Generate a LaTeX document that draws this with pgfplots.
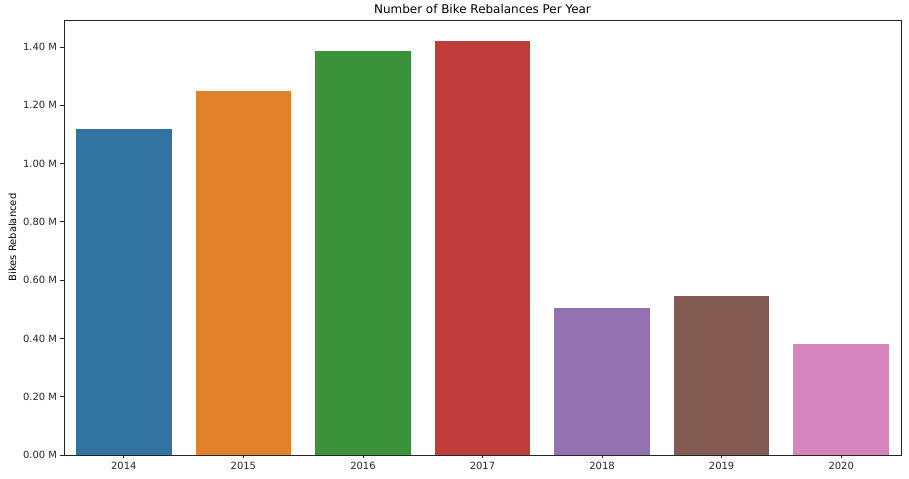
\documentclass[border=0pt]{standalone}
\usepackage{fontspec}
\setmainfont{DejaVu Sans}
\usepackage{pgfplots}
\pgfplotsset{compat=1.18}

\definecolor{c2014}{HTML}{3274A1}
\definecolor{c2015}{HTML}{E1812C}
\definecolor{c2016}{HTML}{3A923A}
\definecolor{c2017}{HTML}{C03D3E}
\definecolor{c2018}{HTML}{9372B2}
\definecolor{c2019}{HTML}{845B53}
\definecolor{c2020}{HTML}{D684BD}
\definecolor{axgray}{HTML}{262626}

% values in millions of bikes rebalanced
\begin{document}
\begin{tikzpicture}
\begin{axis}[
    scale only axis,
    width=837bp, height=435bp,
    xmin=-0.5, xmax=6.5,
    ymin=0, ymax=1.4928,
    ybar, bar width=0.8, bar shift=0pt,
    xtick={0,1,2,3,4,5,6},
    xticklabels={2014,2015,2016,2017,2018,2019,2020},
    ytick={0,0.2,0.4,0.6,0.8,1.0,1.2,1.4},
    yticklabel={\pgfmathprintnumber[fixed,fixed zerofill,precision=2]{\tick} M},
    /pgf/number format/assume math mode=true,
    tick align=outside,
    xtick pos=bottom, ytick pos=left,
    major tick length=3.5bp,
    tick style={axgray, line width=0.8bp},
    axis line style={axgray, line width=0.8bp},
    ticklabel style={font=\fontsize{10}{12}\selectfont, text=axgray},
    ylabel={Bikes Rebalanced},
    ylabel style={font=\fontsize{10}{12}\selectfont, text=black},
    title={Number of Bike Rebalances Per Year},
    title style={font=\fontsize{12}{14}\selectfont, yshift=-3bp},
    every axis plot/.append style={draw=none},
]
\addplot[fill=c2014] coordinates {(0,1.1195)};
\addplot[fill=c2015] coordinates {(1,1.2500)};
\addplot[fill=c2016] coordinates {(2,1.3870)};
\addplot[fill=c2017] coordinates {(3,1.4217)};
\addplot[fill=c2018] coordinates {(4,0.5048)};
\addplot[fill=c2019] coordinates {(5,0.5460)};
\addplot[fill=c2020] coordinates {(6,0.3810)};
\end{axis}
\useasboundingbox ([xshift=-64bp,yshift=-24bp]current axis.south west) rectangle ([xshift=8bp,yshift=20bp]current axis.north east);
\end{tikzpicture}
\end{document}
